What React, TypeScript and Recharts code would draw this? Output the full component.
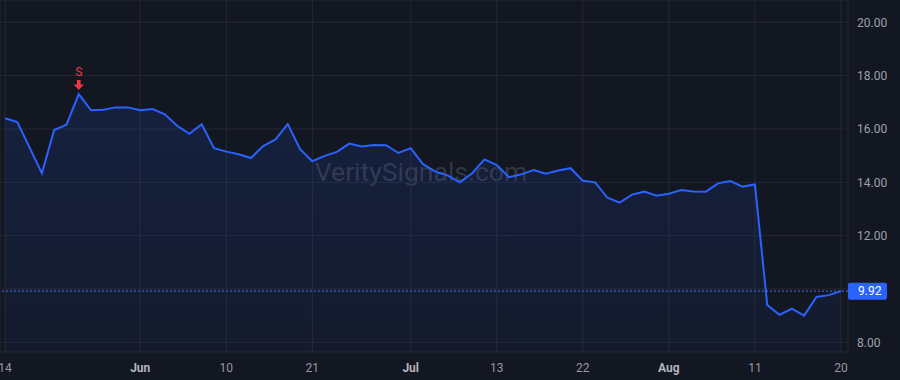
import React from 'react';
import { AreaChart, Area, XAxis, YAxis, CartesianGrid, ReferenceLine, ReferenceDot } from 'recharts';

const prices: number[] = [
  16.40, 16.26, 15.30, 14.34, 15.96, 16.16, 17.31, 16.70, 16.72, 16.81,
  16.81, 16.70, 16.75, 16.55, 16.12, 15.82, 16.18, 15.28, 15.15, 15.05,
  14.91, 15.36, 15.61, 16.18, 15.24, 14.79, 14.99, 15.14, 15.45, 15.34,
  15.40, 15.39, 15.10, 15.28, 14.68, 14.40, 14.26, 14.00, 14.34, 14.86,
  14.65, 14.19, 14.30, 14.46, 14.32, 14.44, 14.53, 14.06, 14.00, 13.42,
  13.24, 13.54, 13.65, 13.50, 13.57, 13.71, 13.66, 13.65, 13.96, 14.05,
  13.84, 13.92, 9.40, 9.03, 9.26, 9.00, 9.70, 9.77, 9.92,
];

const tickIndices: number[] = [0, 11, 18, 25, 33, 40, 47, 54, 61, 68];
const tickLabels: string[] = ['14', 'Jun', '10', '21', 'Jul', '13', '22', 'Aug', '11', '20'];
const monthLabels: string[] = ['Jun', 'Jul', 'Aug'];

const yTicks: number[] = [8, 10, 12, 14, 16, 18, 20];
const yDomain: [number, number] = [7.638, 20.836];

const lastPrice = 9.92;
const signalIndex = 6;
const signalText = 'S';
const watermark = 'VeritySignals.com';

const data = prices.map((p, i) => ({ i, p }));

const FONT = 'Roboto, "Liberation Sans", Arial, sans-serif';
const BG = '#131722';
const GRID = '#242833';
const LINE = '#2962ff';

const XTick = (props: any) => {
  const { x, y, payload } = props;
  const idx = tickIndices.indexOf(payload.value);
  const label = idx >= 0 ? tickLabels[idx] : '';
  const isMonth = monthLabels.includes(label);
  return (
    <text
      x={x}
      y={y}
      dy="0.71em"
      textAnchor="middle"
      fontFamily={FONT}
      fontSize={12}
      fontWeight={isMonth ? 700 : 400}
      fill={isMonth ? '#b2b5be' : '#9598a1'}
    >
      {label}
    </text>
  );
};

const YTick = (props: any) => {
  const { x, y, payload } = props;
  if (payload.value === 10) return <g />;
  return (
    <text x={x} y={y} dy="0.355em" textAnchor="start" fontFamily={FONT} fontSize={12} fill="#9ea1aa">
      {payload.value.toFixed(2)}
    </text>
  );
};

const PriceBadge = (props: any) => {
  const vb = props.viewBox || {};
  const x0 = (vb.x || 0) + (vb.width || 0);
  const yc = vb.y || 0;
  return (
    <g>
      <rect x={x0} y={yc - 8.5} width={39} height={17} rx={2} fill={LINE} />
      <text x={x0 + 10} y={yc} dy="0.355em" fontFamily={FONT} fontSize={12} fill="#ffffff">
        {lastPrice.toFixed(2)}
      </text>
    </g>
  );
};

const SignalShape = (props: any) => {
  const { cx, cy } = props;
  if (cx == null || cy == null) return <g />;
  const red = '#f23645';
  return (
    <g>
      <text x={cx} y={cy - 22} dy="0.355em" textAnchor="middle" fontFamily={FONT} fontSize={12} fill={red}>
        {signalText}
      </text>
      <path
        d={`M${cx - 1.8},${cy - 14} L${cx + 1.8},${cy - 14} L${cx + 1.8},${cy - 9.5} L${cx + 5},${cy - 9.5} L${cx},${cy - 4} L${cx - 5},${cy - 9.5} L${cx - 1.8},${cy - 9.5} Z`}
        fill={red}
      />
    </g>
  );
};

export default function App() {
  return (
    <div style={{ position: 'absolute', left: 0, top: 0, width: 900, height: 380, background: BG, overflow: 'hidden' }}>
      <div
        style={{
          position: 'absolute',
          left: 0,
          width: 842,
          top: 154,
          textAlign: 'center',
          fontFamily: FONT,
          fontSize: 26.5,
          lineHeight: '36px',
          color: 'rgba(120,123,134,0.32)',
        }}
      >
        {watermark}
      </div>
      <div style={{ position: 'absolute', left: 0, top: 0 }}>
        <AreaChart width={900} height={380} data={data} margin={{ top: 0, right: 0, bottom: 0, left: 0 }}>
          <defs>
            <linearGradient id="fillGrad" x1="0" y1="0" x2="0" y2="1">
              <stop offset="0%" stopColor={LINE} stopOpacity={0.22} />
              <stop offset="100%" stopColor={LINE} stopOpacity={0.08} />
            </linearGradient>
          </defs>
          <CartesianGrid stroke={GRID} strokeWidth={1} />
          <XAxis
            dataKey="i"
            type="category"
            ticks={tickIndices}
            tick={<XTick />}
            tickLine={false}
            axisLine={false}
            tickSize={0}
            tickMargin={11}
            height={28}
            padding={{ left: 5, right: 7 }}
            interval={0}
          />
          <YAxis
            orientation="right"
            domain={yDomain}
            ticks={yTicks}
            tick={<YTick />}
            tickLine={false}
            axisLine={false}
            tickSize={0}
            tickMargin={9}
            width={52}
            allowDataOverflow
          />
          <Area
            type="linear"
            dataKey="p"
            stroke={LINE}
            strokeWidth={2}
            fill="url(#fillGrad)"
            isAnimationActive={false}
            dot={false}
            activeDot={false}
          />
          <ReferenceLine y={lastPrice} stroke="#4a74e8" strokeDasharray="2 2" strokeWidth={1} label={<PriceBadge />} />
          <ReferenceDot x={signalIndex} y={prices[signalIndex]} r={0} shape={<SignalShape />} />
        </AreaChart>
      </div>
    </div>
  );
}
